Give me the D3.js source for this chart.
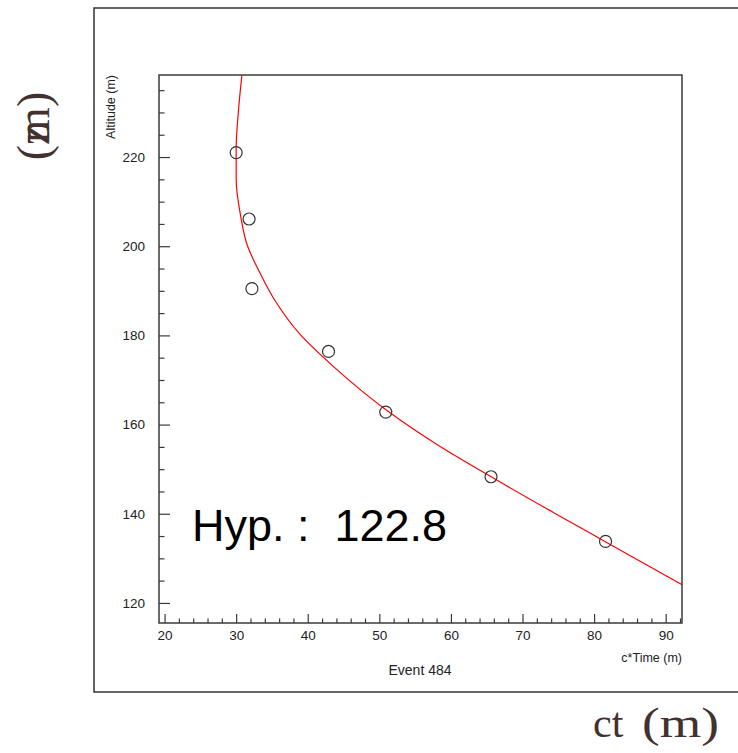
<!DOCTYPE html>
<html lang="en">

<head>
	<meta charset="utf-8">
	<title> Altitude vs c*Time </title>
	<script src="https://d3js.org/d3.v7.min.js"></script>
	<style type="text/css">
		body{ margin: 0; background: #fff; }
		.axis text{ font: 13.5px "Liberation Sans", Arial, sans-serif; fill: #222; }
		.axis line{ stroke: #3a3a3a; stroke-width: 1.2; }
	</style>
</head>

<body>
	<script type="text/javascript">
	// measured points (c*Time, altitude)
	var pointTime = [30.0, 31.8, 32.2, 42.9, 50.9, 65.6, 81.6]
	var pointAlt  = [221.0, 206.1, 190.5, 176.4, 162.8, 148.3, 133.8]

	// hyperbola fit (c*Time, altitude)
	var fitTime = [30.8, 30.3, 30.0, 30.0, 30.6, 31.6, 33.1, 35.2, 39.0, 43.6, 51.2, 58.0, 65.5, 74.3, 81.5, 92.3]
	var fitAlt  = [238.4, 230, 222, 215, 207, 200, 194.7, 188.4, 180.1, 173.0, 163.0, 155.6, 148.4, 140.3, 133.8, 124.1]

	// ticks
	var xMajor = [20, 30, 40, 50, 60, 70, 80, 90]
	var xMinor = d3.range(22, 93, 2).filter(v => v % 10 != 0)
	var yMajor = [120, 140, 160, 180, 200, 220]
	var yMinor = d3.range(120, 236, 5).filter(v => v % 20 != 0)

	var hypText = "Hyp. :  122.8"
	var eventText = "Event 484"

	// window size
	var w = 738;
	var h = 753;

	// plot box (names avoid window.top)
	var boxL = 159, boxR = 682, boxT = 75, boxB = 623;

	var svg = d3.select("body")
				.append("svg")
				.attr("width", w)
				.attr("height", h)

	// XY scale
	var xScale = d3.scaleLinear().domain([19.22, 92.28]).range([boxL, boxR])
	var yScale = d3.scaleLinear().domain([115.5, 238.4]).range([boxB, boxT])

	// outer frame (right side runs off the page)
	svg.append("path")
		.attr("d", "M" + w + ",8 H94 V692 H" + w)
		.attr("fill", "none")
		.attr("stroke", "#333")
		.attr("stroke-width", 1.5)

	// plot frame
	svg.append("rect")
		.attr("x", boxL)
		.attr("y", boxT)
		.attr("width", boxR - boxL)
		.attr("height", boxB - boxT)
		.attr("fill", "none")
		.attr("stroke", "#3a3a3a")
		.attr("stroke-width", 1.5)

	// x axis, ticks pointing up into the plot
	svg.append("g")
		.attr("class", "axis")
		.attr("transform", "translate(0," + boxB + ")")
		.call(d3.axisBottom(xScale).tickValues(xMajor).tickSize(-9).tickSizeOuter(0).tickPadding(7).tickFormat(d3.format("d")))
		.call(g => g.select(".domain").remove())
	svg.append("g")
		.attr("class", "axis")
		.attr("transform", "translate(0," + boxB + ")")
		.call(d3.axisBottom(xScale).tickValues(xMinor).tickSize(-4.5).tickSizeOuter(0).tickFormat(""))
		.call(g => g.select(".domain").remove())

	// y axis, ticks pointing right into the plot
	svg.append("g")
		.attr("class", "axis")
		.attr("transform", "translate(" + boxL + ",0)")
		.call(d3.axisLeft(yScale).tickValues(yMajor).tickSize(-11).tickSizeOuter(0).tickPadding(14).tickFormat(d3.format("d")))
		.call(g => g.select(".domain").remove())
	svg.append("g")
		.attr("class", "axis")
		.attr("transform", "translate(" + boxL + ",0)")
		.call(d3.axisLeft(yScale).tickValues(yMinor).tickSize(-5.5).tickSizeOuter(0).tickFormat(""))
		.call(g => g.select(".domain").remove())

	// axis titles
	svg.append("text")
		.attr("transform", "translate(115," + boxT + ") rotate(-90)")
		.attr("text-anchor", "end")
		.style("font", "12.5px 'Liberation Sans', Arial, sans-serif")
		.attr("fill", "#222")
		.text("Altitude (m)")

	svg.append("text")
		.attr("x", boxR)
		.attr("y", 661.5)
		.attr("text-anchor", "end")
		.style("font", "12.5px 'Liberation Sans', Arial, sans-serif")
		.attr("fill", "#222")
		.text("c*Time (m)")

	svg.append("text")
		.attr("x", 420)
		.attr("y", 675)
		.attr("text-anchor", "middle")
		.style("font", "14px 'Liberation Sans', Arial, sans-serif")
		.attr("fill", "#222")
		.text(eventText)

	// fit curve, clipped to the plot box
	svg.append("clipPath")
		.attr("id", "clip")
		.append("rect")
		.attr("x", boxL).attr("y", boxT)
		.attr("width", boxR - boxL).attr("height", boxB - boxT)

	var fitLine = d3.line()
					.x((d, i) => xScale(fitTime[i]))
					.y((d, i) => yScale(fitAlt[i]))
					.curve(d3.curveMonotoneY)

	svg.append("path")
		.attr("d", fitLine(fitTime))
		.attr("clip-path", "url(#clip)")
		.attr("fill", "none")
		.attr("stroke", "#f00")
		.attr("stroke-width", 1.2)

	// points
	svg.append("g")
		.selectAll("circle")
		.data(pointTime)
		.enter()
		.append("circle")
		.attr("cx", (d, i) => xScale(pointTime[i]))
		.attr("cy", (d, i) => yScale(pointAlt[i]))
		.attr("r", 6)
		.attr("fill", "none")
		.attr("stroke", "#333")
		.attr("stroke-width", 1.2)

	// fit result label
	svg.append("text")
		.attr("x", 192)
		.attr("y", 541)
		.style("font", "45px 'Liberation Sans', Arial, sans-serif")
		.attr("fill", "#000")
		.style("white-space", "pre")
		.text(hypText)

	// slide labels outside the chart (serif)
	var zLabel = svg.append("text")
		.attr("transform", "translate(49,126) rotate(-90)")
		.attr("text-anchor", "middle")
		.style("font", "46px 'Liberation Serif', 'Times New Roman', serif")
		.attr("fill", "#41322f")
	zLabel.append("tspan").text("(z")
	zLabel.append("tspan").attr("dx", "-0.40em").text("m)")

	var ctLabel = svg.append("text")
		.attr("y", 737)
		.style("font", "42px 'Liberation Serif', 'Times New Roman', serif")
		.attr("fill", "#41322f")
	ctLabel.append("tspan").attr("x", 593).text("ct")
	ctLabel.append("tspan").attr("x", 642).attr("textLength", 77).attr("lengthAdjust", "spacingAndGlyphs").text("(m)")

	</script>
</body>
</html>
